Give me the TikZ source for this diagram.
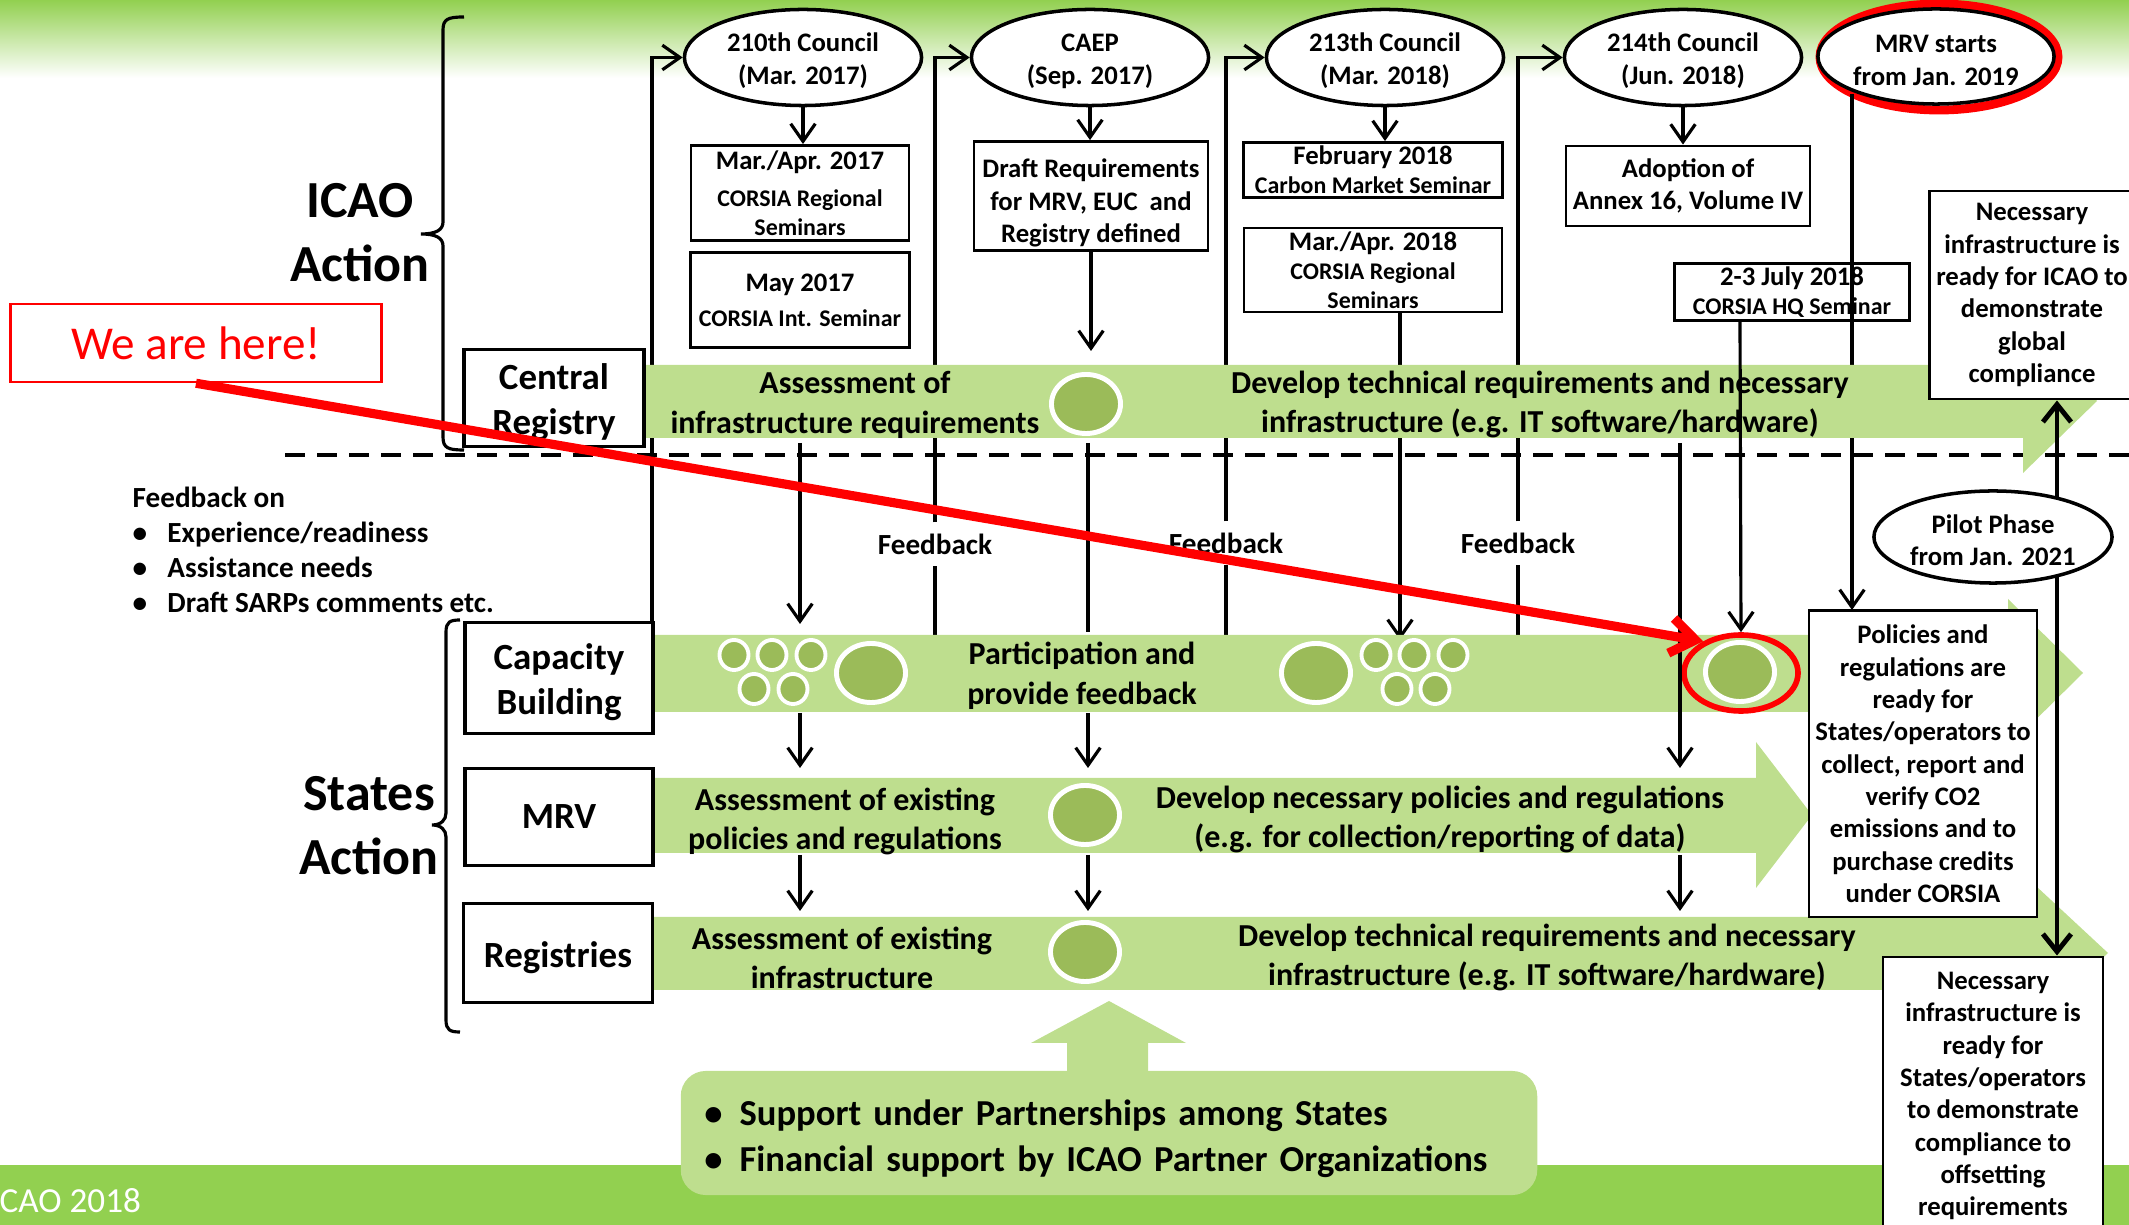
\documentclass[tikz,border=0pt]{standalone}
\usepackage{fontspec}
\setmainfont{Carlito}
\usetikzlibrary{arrows.meta,shapes.geometric,calc}
\definecolor{topgreen}{RGB}{146,208,80}
\definecolor{barg}{RGB}{190,222,142}
\definecolor{circg}{RGB}{155,187,89}
\definecolor{redc}{RGB}{255,0,0}
\newcommand{\myfS}{\fontsize{6.8pt}{8.2pt}\selectfont\bfseries}
\newcommand{\myfN}{\fontsize{7.6pt}{9.2pt}\selectfont\bfseries}
\newcommand{\myfF}{\fontsize{8.3pt}{10pt}\selectfont\bfseries}
\newcommand{\myfB}{\fontsize{9.1pt}{11.1pt}\selectfont\bfseries}
\newcommand{\myfL}{\fontsize{10.5pt}{12.8pt}\selectfont\bfseries}
\newcommand{\myfH}{\fontsize{14.8pt}{18.2pt}\selectfont\bfseries}
\newcommand{\myfP}{\fontsize{10.4pt}{13.1pt}\selectfont\bfseries}
\newcommand{\mybul}{\makebox[9.9pt][l]{\textbullet}}
\newcommand{\mysbul}{\hspace*{-1.5pt}\makebox[10pt][l]{\textbullet}}
\newcommand{\tf}{\rule{0pt}{0.77\baselineskip}}
\tikzset{
  topfix/.style={execute at begin node={\rule{0pt}{0.8\baselineskip}}},
  conn/.style={line width=0.9pt, draw=black},
  arr/.style={conn, -{Straight Barb[length=5pt,width=7pt]}},
  darr/.style={line width=1.4pt, draw=black, {Straight Barb[length=5pt,width=8pt]}-{Straight Barb[length=5pt,width=8pt]}},
  redarr/.style={line width=2.6pt, draw=redc, -{Straight Barb[length=7pt,width=10pt]}},
  dashln/.style={line width=1pt, dash pattern=on 5.7pt off 3.4pt},
  ell/.style={ellipse, draw, line width=1pt, fill=white, inner sep=0pt, align=center, font=\myfN},
  tbox/.style={rectangle, draw, line width=0.8pt, fill=white, inner xsep=1pt, inner ysep=1pt, align=center, font=\myfN},
  rlab/.style={rectangle, draw, line width=1.1pt, fill=white, inner sep=1pt, align=center, font=\myfL},
  bartext/.style={align=center, font=\myfB, inner sep=0pt},
  bigb/.style={ellipse, fill=circg, draw=white, line width=1.4pt, inner sep=0pt, minimum width=0.69cm, minimum height=0.59cm},
  smlb/.style={ellipse, fill=circg, draw=white, line width=1.1pt, inner sep=0pt, minimum width=0.29cm, minimum height=0.30cm},
  fbk/.style={font=\myfF, inner xsep=2pt, inner ysep=3pt},
}
\begin{document}
\begin{tikzpicture}[x=0.01cm,y=-0.01cm]
\useasboundingbox (0,0) rectangle (2129,1225);
% background bands
\shade[top color=topgreen, bottom color=white] (0,0) rectangle (2129,78);
\fill[topgreen] (0,1165) rectangle (2129,1225);
\node[anchor=base west, inner sep=0pt, text=white, font=\fontsize{10pt}{12pt}\selectfont] (icaoyr) at (-1,1213) {CAO 2018};
% dashed separator
\coordinate (dl) at (285,455);
\coordinate (dr) at (2129,455);
\draw[dashln] (dl) -- (dr);

% top events
\node[ell, minimum width=2.37cm, minimum height=0.96cm] (c210) at (803,57.5) {\tf 210th Council\\(Mar. 2017)};
\node[ell, minimum width=2.37cm, minimum height=0.96cm] (caep) at (1090,57.5) {\tf CAEP\\(Sep. 2017)};
\node[ell, minimum width=2.37cm, minimum height=0.96cm] (c213) at (1385,57.5) {\tf 213th Council\\(Mar. 2018)};
\node[ell, minimum width=2.37cm, minimum height=0.96cm] (c214) at (1683,57.5) {\tf 214th Council\\(Jun. 2018)};
\node[ellipse, draw=redc, line width=2.5pt, minimum width=2.38cm, minimum height=1.06cm] (mrvring) at (1939,57) {};
\node[ell, minimum width=2.36cm, minimum height=0.95cm] (mrvs) at (1936,56.5) {\tf MRV starts\\from Jan. 2019};

% boxes under events
\node[tbox, font=\myfS, minimum width=2.18cm, minimum height=0.95cm] (b1) at (800,193) {{\myfN Mar./Apr. 2017}\\[2.4pt]CORSIA Regional\\Seminars};
\node[tbox, font=\myfS, minimum width=2.19cm, minimum height=0.95cm] (b2) at (800,300) {{\myfN May 2017}\\[1.8pt]CORSIA Int. Seminar};
\node[tbox, minimum width=2.34cm, minimum height=1.04cm] (b3) at (1091,196) {\rule{0pt}{9.3pt}Draft Requirements\\for MRV, EUC\ \ and\\Registry defined};
\node[tbox, font=\myfS, minimum width=2.59cm, minimum height=0.55cm] (b4) at (1373,170) {{\myfN February 2018}\\Carbon Market Seminar};
\node[tbox, font=\myfS, minimum width=2.58cm, minimum height=0.84cm] (b5) at (1373,270) {{\myfN Mar./Apr. 2018}\\CORSIA Regional\\Seminars};
\node[tbox, minimum width=2.44cm, minimum height=0.80cm] (b6) at (1688,186) {Adoption of\\Annex 16, Volume IV};
\node[tbox, font=\myfS, minimum width=2.35cm, minimum height=0.57cm] (b7) at (1792,292) {{\myfN 2-3 July 2018}\\CORSIA HQ Seminar};

% arrows from events to boxes
\draw[arr] (c210.south) -- (c210.south |- b1.north);
\draw[arr] (caep.south) -- (caep.south |- b3.north);
\draw[arr] (c213.south) -- (c213.south |- b4.north);
\draw[arr] (c214.south) -- (c214.south |- b6.north);

% feedback labels
\node[fbk] (fb1) at (935,544) {Feedback};
\node[fbk] (fb2) at (1226,543) {Feedback};
\node[fbk] (fb3) at (1518,543) {Feedback};

% coordinates of free ends
\coordinate (k1) at (652,633);
\coordinate (k2) at (935,636);
\coordinate (k3) at (1226,636);
\coordinate (k4) at (1470,668);
\coordinate (crT) at (1091,351);
\coordinate (u1) at (800,443);
\coordinate (u1e) at (800,624);
\coordinate (u2) at (1088,443);
\coordinate (u2e) at (1088,632);
\coordinate (p5) at (1400,312);
\coordinate (p5e) at (1400,640);
\coordinate (m0) at (1852,94);
\coordinate (m1) at (1852,610);

% lines behind the central registry bar
\draw[arr] (k1) |- (c210.west);
\draw[conn] (k2) -- (fb1.south);
\draw[arr] (fb1.north) |- (caep.west);
\draw[conn] (k3) -- (fb2.south);
\draw[arr] (fb2.north) |- (c213.west);
\draw[conn] (k4) -| (fb3.south);
\draw[arr] (fb3.north) |- (c214.west);
\draw[arr] (b3.south) -- (crT);
\draw[arr] (u1) -- (u1e);
\draw[conn] (u2) -- (u2e);
\draw[arr] (p5) -- (p5e);
\draw[arr] (m0) -- (m1);

% green bars
\fill[barg] (645,365) -- (2023,365) -- (2023,329) -- (2097,401) -- (2023,473) -- (2023,438) -- (645,438) -- cycle;
\fill[barg] (652,635) -- (2008,635) -- (2008,599) -- (2083,673) -- (2008,747) -- (2008,712) -- (652,712) -- cycle;
\fill[barg] (652,778) -- (1756,778) -- (1756,742) -- (1812,815) -- (1756,888) -- (1756,853) -- (652,853) -- cycle;
\fill[barg] (652,917) -- (2037,917) -- (2037,887) -- (2108,953) -- (2037,1019) -- (2037,990) -- (652,990) -- cycle;

% row labels
\node[rlab, minimum width=1.80cm, minimum height=0.97cm] (crb) at (554,398) {\tf Central\\Registry};
\node[rlab, minimum width=1.88cm, minimum height=1.11cm] (cbb) at (559,678) {\tf Capacity\\Building};
\node[rlab, minimum width=1.88cm, minimum height=0.97cm] (mrvb) at (559,817) {MRV};
\node[rlab, topfix, minimum width=1.89cm, minimum height=0.99cm] (regb) at (558,953) {Registries};

% bar texts
\node[bartext] (t1) at (855,401) {\tf Assessment of\\infrastructure requirements};
\node[bartext] (t2) at (1540,401) {\tf Develop technical requirements and necessary\\infrastructure (e.g. IT software/hardware)};
\node[bartext] (t3) at (1082,672) {\tf Participation and\\provide feedback};
\node[bartext] (t4) at (845,818) {\tf Assessment of existing\\policies and regulations};
\node[bartext] (t5) at (1440,816) {\tf Develop necessary policies and regulations\\(e.g. for collection/reporting of data)};
\node[bartext] (t6) at (842,954) {\tf Assessment of existing\\infrastructure};
\node[bartext] (t7) at (1547,954) {\tf Develop technical requirements and necessary\\infrastructure (e.g. IT software/hardware)};

% bubbles
\node[bigb] (g1) at (1086,404) {};
\node[bigb] (g2) at (1085,815) {};
\node[bigb] (g3) at (1085,952) {};
\node[smlb] (s1a) at (734,655) {};
\node[smlb] (s1b) at (772,655) {};
\node[smlb] (s1c) at (811,655) {};
\node[smlb] (s1d) at (754,689) {};
\node[smlb] (s1e) at (793,689) {};
\node[bigb] (g4) at (871,673) {};
\node[bigb] (g5) at (1316,673) {};
\node[smlb] (s2a) at (1376,655) {};
\node[smlb] (s2b) at (1414,655) {};
\node[smlb] (s2c) at (1453,655) {};
\node[smlb] (s2d) at (1397,689) {};
\node[smlb] (s2e) at (1435,689) {};
\node[bigb] (g6) at (1740,672) {};
\node[ellipse, draw=redc, line width=1.6pt, inner sep=0pt, minimum width=1.14cm, minimum height=0.76cm] (ring) at (1741,673) {};

% support block arrow and box
\fill[barg] (1067,1080) -- (1067,1043) -- (1031,1043) -- (1109,1001) -- (1186,1043) -- (1148,1043) -- (1148,1080) -- cycle;
\node[rounded corners=0.25cm, fill=barg, minimum width=8.56cm, minimum height=1.24cm, text width=7.98cm, inner xsep=0.29cm, align=left, font=\myfP, topfix] (sup) at (1109,1133) {\mysbul Support under Partnerships among States\\\mysbul Financial support by ICAO Partner Organizations};

% lines over the bars
\coordinate (p7) at (1740,321);
\coordinate (q0) at (1680,443);
\coordinate (q1) at (1680,768);
\coordinate (q2) at (1680,855);
\coordinate (q3) at (1680,911);
\coordinate (v1) at (800,713);
\coordinate (v1e) at (800,768);
\coordinate (v2) at (1088,713);
\coordinate (v2e) at (1088,768);
\coordinate (w1) at (800,855);
\coordinate (w1e) at (800,911);
\coordinate (w2) at (1088,855);
\coordinate (w2e) at (1088,911);
\draw[arr] (p7) -- (ring.north);
\draw[arr] (q0) -- (q1);
\draw[arr] (q2) -- (q3);
\draw[arr] (v1) -- (v1e);
\draw[arr] (v2) -- (v2e);
\draw[arr] (w1) -- (w1e);
\draw[arr] (w2) -- (w2e);

% right-hand result boxes
\node[tbox, inner xsep=0.5pt, minimum width=2.05cm, minimum height=2.08cm] (nr1) at (2032,295) {Necessary\\infrastructure is\\ready for ICAO to\\demonstrate\\global\\compliance};
\node[tbox, inner xsep=0.5pt, minimum width=2.28cm, minimum height=3.06cm] (pol) at (1923,764) {Policies and\\regulations are\\ready for\\States/operators to\\collect, report and\\verify CO2\\emissions and to\\purchase credits\\under CORSIA};
\node[tbox, inner xsep=0.5pt, minimum width=2.20cm, minimum height=2.78cm] (nr2) at (1993,1096) {Necessary\\infrastructure is\\ready for\\States/operators\\to demonstrate\\compliance to\\offsetting\\requirements};
\coordinate (dd) at (2057,0);
\draw[darr] (nr1.south -| dd) -- (nr2.north -| dd);
\node[ell, minimum width=2.38cm, minimum height=0.92cm] (pilot) at (1993,537) {\tf Pilot Phase\\from Jan. 2021};

% braces and side titles
\draw[line width=0.9pt] (464,17) .. controls (448,17) and (443,19) .. (443,30) -- (443,222) .. controls (443,230) and (436,234) .. (421,234) .. controls (436,234) and (443,238) .. (443,246) -- (443,437) .. controls (443,448) and (448,450) .. (464,450);
\draw[line width=0.9pt] (460,620) .. controls (450,620) and (446,622) .. (446,632) -- (446,813) .. controls (446,820) and (441,825) .. (432,825) .. controls (441,825) and (446,830) .. (446,837) -- (446,1020) .. controls (446,1030) and (450,1032) .. (460,1032);
\node[font=\myfH, align=center, inner sep=0pt] (icao) at (360,233) {ICAO\\Action};
\node[font=\myfH, align=center, inner sep=0pt] (states) at (369,826) {States\\Action};
\node[anchor=west, align=left, font=\myfF, inner sep=0pt] (fbl) at (132,550) {Feedback on\\\mybul Experience/readiness\\\mybul Assistance needs\\\mybul Draft SARPs comments etc.};

% we are here
\node[draw=redc, line width=0.7pt, text=redc, minimum width=3.71cm, minimum height=0.78cm, font=\fontsize{13.4pt}{16pt}\selectfont] (weh) at (196,343) {We are here!};
\draw[redarr] (weh.south) -- (ring.140);
\end{tikzpicture}
\end{document}
